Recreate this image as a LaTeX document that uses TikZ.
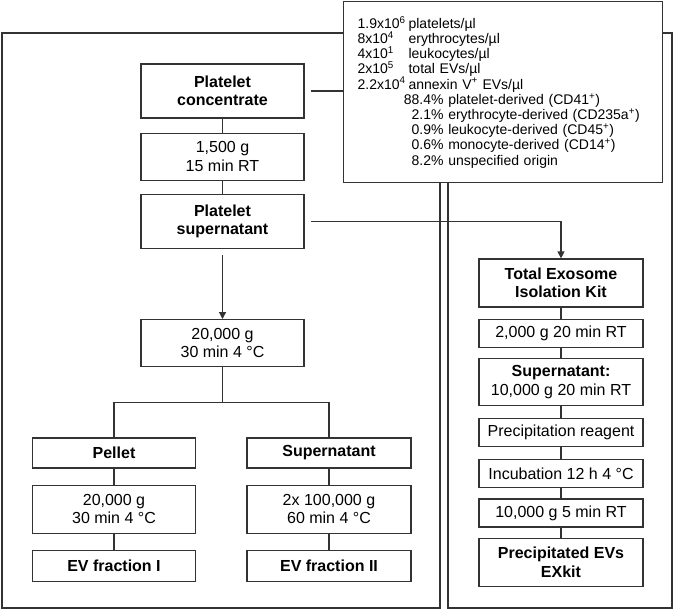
\documentclass[tikz,border=0pt]{standalone}
\usepackage{fontspec}
\setmainfont{Liberation Sans}
\usetikzlibrary{positioning,arrows.meta}

\tikzset{
  link/.style={draw=black!80,line width=1.2pt},
  flow/.style={link,-{Triangle[width=7pt,length=7pt]}},
  stepbox/.style={draw=black!80,line width=1.2pt,align=center,minimum width=163pt,inner sep=2pt,font=\fontsize{16}{18.5}\selectfont},
  one/.style={stepbox,minimum height=28pt},
  two/.style={stepbox,minimum height=48pt},
  fat/.style={font=\fontsize{16}{18.5}\selectfont\bfseries}
}

\begin{document}
\begin{tikzpicture}[x=1pt,y=-1pt]
\useasboundingbox (0,0) rectangle (675,611);
% the two method frames
\draw[link] (2,33) rectangle (440,608);
\draw[link] (448,33) rectangle (672,608);

% counts of the starting material
\node[draw=black!80,line width=1.2pt,fill=white,anchor=north west,minimum width=319pt,minimum height=181pt,
      text width=291pt,align=left,inner xsep=14pt,font=\fontsize{14}{15.2}\selectfont] (counts) at (343,1)
  {\makebox[51pt][l]{1.9x10\textsuperscript{6}}platelets/µl\\
   \makebox[51pt][l]{8x10\textsuperscript{4}}erythrocytes/µl\\
   \makebox[51pt][l]{4x10\textsuperscript{1}}leukocytes/µl\\
   \makebox[51pt][l]{2x10\textsuperscript{5}}total EVs/µl\\
   \makebox[51pt][l]{2.2x10\textsuperscript{4}}annexin V\textsuperscript{+} EVs/µl\\
   \hspace*{48pt}\makebox[38pt][r]{88.4\%} platelet-derived (CD41\textsuperscript{+})\\
   \hspace*{48pt}\makebox[38pt][r]{2.1\%} erythrocyte-derived (CD235a\textsuperscript{+})\\
   \hspace*{48pt}\makebox[38pt][r]{0.9\%} leukocyte-derived (CD45\textsuperscript{+})\\
   \hspace*{48pt}\makebox[38pt][r]{0.6\%} monocyte-derived (CD14\textsuperscript{+})\\
   \hspace*{48pt}\makebox[38pt][r]{8.2\%} unspecified origin};

% centrifugation
\node[two,fat,minimum height=54pt] (conc) at (222.5,91) {Platelet\\concentrate};
\node[two,minimum height=47pt,below=14pt of conc] (spin1) {1,500 g\\15 min RT};
\node[two,fat,minimum height=54pt,below=13pt of spin1] (super) {Platelet\\supernatant};
\node[two,minimum height=47pt,below=70pt of super] (spin2) {20,000 g\\30 min 4 °C};
\node[one,fat,minimum height=30pt] (pellet) at (114,453) {Pellet};
\node[one,fat,minimum height=30pt,minimum width=164pt] (supern) at (329,453) {Supernatant};
\node[two,below=16pt of pellet] (spin3) {20,000 g\\30 min 4 °C};
\node[two,minimum width=164pt,below=16pt of supern] (spin4) {2x 100,000 g\\60 min 4 °C};
\node[one,fat,minimum height=31pt,below=16pt of spin3] (evI) {EV fraction I};
\node[one,fat,minimum height=31pt,minimum width=164pt,below=16pt of spin4] (evII) {EV fraction II};

% precipitation kit
\node[two,fat,minimum width=164pt] (kit) at (561,283) {Total Exosome\\Isolation Kit};
\node[one,minimum width=164pt,below=11pt of kit] (kit1) {2,000 g 20 min RT};
\node[two,minimum width=164pt,minimum height=47pt,below=10pt of kit1] (kit2) {{\bfseries Supernatant:}\\10,000 g 20 min RT};
\node[one,minimum width=164pt,below=12pt of kit2] (kit3) {Precipitation reagent};
\node[one,minimum width=164pt,below=12pt of kit3] (kit4) {Incubation 12 h 4 °C};
\node[one,minimum width=164pt,below=10pt of kit4] (kit5) {10,000 g 5 min RT};
\node[two,fat,minimum width=164pt,below=10pt of kit5] (exkit) {Precipitated EVs\\EXkit};

% connectors
\draw[link] ([xshift=6pt]conc.east) -- (conc.east -| counts.west);
\draw[link] (conc) -- (spin1);
\draw[link] (spin1) -- (super);
\draw[flow] ([yshift=-6pt]super.south) -- (spin2);
\draw[flow] ([xshift=6pt]super.east) -| (kit.north);
\draw[link] (spin2.south) -- ++(0,35) coordinate (split) -| (pellet.north)
            (split) -| (supern.north);
\draw[link] (pellet) -- (spin3);
\draw[link] (spin3) -- (evI);
\draw[link] (supern) -- (spin4);
\draw[link] (spin4) -- (evII);
\draw[link] (kit) -- (kit1);
\draw[link] (kit1) -- (kit2);
\draw[link] (kit2) -- (kit3);
\draw[link] (kit3) -- (kit4);
\draw[link] (kit4) -- (kit5);
\draw[link] (kit5) -- (exkit);
\end{tikzpicture}
\end{document}
